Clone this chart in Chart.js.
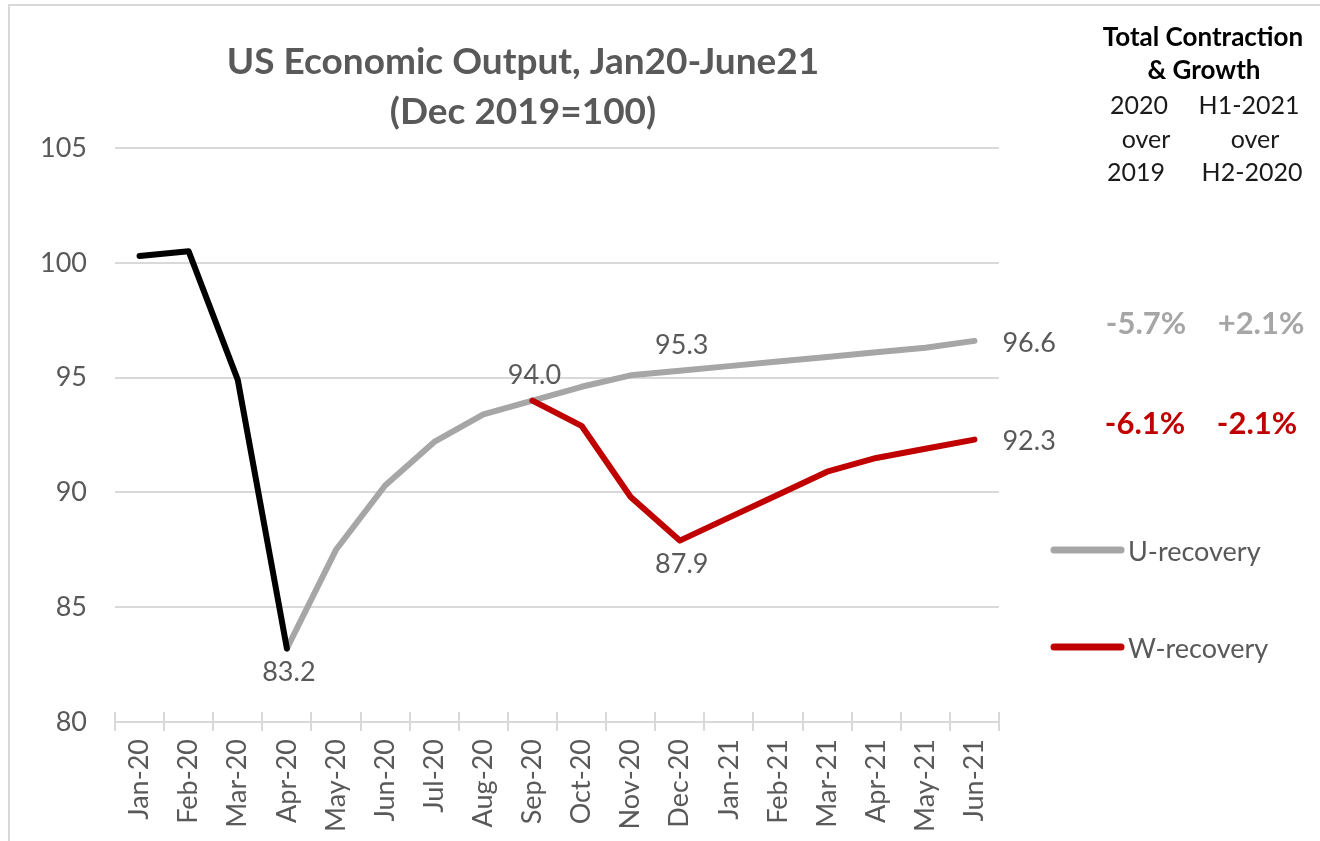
<!DOCTYPE html>
<html>
<head>
<meta charset="utf-8">
<title>US Economic Output, Jan20-June21</title>
<script src="https://cdn.jsdelivr.net/npm/chart.js@4/dist/chart.umd.min.js"></script>
<style>
  html, body { margin: 0; padding: 0; background: #ffffff; }
  #wrap { width: 1320px; height: 841px; }
</style>
</head>
<body>
<div id="wrap"><canvas id="chart" width="1320" height="841"></canvas></div>
<script>
// Month categories on the x axis
const months = ['Jan-20', 'Feb-20', 'Mar-20', 'Apr-20', 'May-20', 'Jun-20', 'Jul-20', 'Aug-20', 'Sep-20',
                'Oct-20', 'Nov-20', 'Dec-20', 'Jan-21', 'Feb-21', 'Mar-21', 'Apr-21', 'May-21', 'Jun-21'];

// Output index, Dec 2019 = 100
const initialDrop = [100.3, 100.5, 94.9, 83.2, null, null, null, null, null,
                     null, null, null, null, null, null, null, null, null];
const uRecovery   = [null, null, null, 83.2, 87.5, 90.3, 92.2, 93.4, 94.0,
                     94.6, 95.1, 95.3, 95.5, 95.7, 95.9, 96.1, 96.3, 96.6];
const wRecovery   = [null, null, null, null, null, null, null, null, 94.0,
                     92.9, 89.8, 87.9, 88.9, 89.9, 90.9, 91.5, 91.9, 92.3];

// Y axis ticks
const yTicks = [80, 85, 90, 95, 100, 105];

// Title lines
const titleLines = ['US Economic Output, Jan20-June21', '(Dec 2019=100)'];

// Side table: total contraction & growth by scenario
const tableHeader = ['Total Contraction', '& Growth'];
const periodCol2020 = ['2020', 'over', '2019'];
const periodColH1 = ['H1-2021', 'over', 'H2-2020'];
const uGrowth = ['-5.7%', '+2.1%'];
const wGrowth = ['-6.1%', '-2.1%'];

// Values printed next to selected points: [dataset index, month, placement]
const valueLabels = [
  [0, 'Apr-20', 'below'],
  [1, 'Sep-20', 'above'],
  [1, 'Dec-20', 'above'],
  [1, 'Jun-21', 'right'],
  [2, 'Dec-20', 'below'],
  [2, 'Jun-21', 'right']
];

const FONT = 'Lato, "Open Sans", sans-serif';
const TEXT_GREY = '#595959';
const GRID = '#d9d9d9';
const U_COLOR = '#a6a6a6';
const W_COLOR = '#c00000';

const backdrop = {
  id: 'backdrop',
  beforeDraw(chart) {
    const ctx = chart.ctx;
    ctx.save();
    ctx.fillStyle = '#ffffff';
    ctx.fillRect(0, 0, chart.width, chart.height);
    ctx.strokeStyle = GRID;
    ctx.lineWidth = 2;
    ctx.strokeRect(9, 5, chart.width + 20, chart.height + 20);
    ctx.restore();
  }
};

// Short cross-tick marks above the category axis line
const innerTicks = {
  id: 'innerTicks',
  afterDraw(chart) {
    const x = chart.scales.x, ctx = chart.ctx;
    const bottom = chart.chartArea.bottom;
    const half = (x.getPixelForValue(1) - x.getPixelForValue(0)) / 2;
    ctx.save();
    ctx.strokeStyle = GRID;
    ctx.lineWidth = 2;
    ctx.beginPath();
    for (let i = 0; i <= months.length; i++) {
      const px = Math.round(x.getPixelForValue(i) - half);
      ctx.moveTo(px, bottom);
      ctx.lineTo(px, bottom - 10);
    }
    ctx.stroke();
    ctx.restore();
  }
};

const annotations = {
  id: 'annotations',
  afterDatasetsDraw(chart) {
    const ctx = chart.ctx;
    const xs = chart.scales.x, ys = chart.scales.y;
    ctx.save();

    // title
    ctx.fillStyle = TEXT_GREY;
    ctx.font = 'bold 37px ' + FONT;
    ctx.textAlign = 'center';
    ctx.textBaseline = 'alphabetic';
    ctx.fillText(titleLines[0], 523, 74);
    ctx.fillText(titleLines[1], 523, 124);

    // point value labels
    ctx.font = '27px ' + FONT;
    ctx.fillStyle = TEXT_GREY;
    valueLabels.forEach(([ds, month, place]) => {
      const i = months.indexOf(month);
      const v = chart.data.datasets[ds].data[i];
      const px = xs.getPixelForValue(i), py = ys.getPixelForValue(v);
      const txt = v.toFixed(1);
      if (place === 'below') {
        ctx.textAlign = 'center'; ctx.textBaseline = 'middle';
        ctx.fillText(txt, px + 2, py + 24);
      } else if (place === 'above') {
        ctx.textAlign = 'center'; ctx.textBaseline = 'middle';
        ctx.fillText(txt, px + 2, py - 25);
      } else {
        ctx.textAlign = 'left'; ctx.textBaseline = 'middle';
        ctx.fillText(txt, px + 28, py + 2);
      }
    });

    // side table header
    ctx.fillStyle = '#000000';
    ctx.textAlign = 'center';
    ctx.textBaseline = 'middle';
    ctx.font = 'bold 26px ' + FONT;
    ctx.fillText(tableHeader[0], 1203, 38);
    ctx.fillText(tableHeader[1], 1204, 71);
    ctx.font = '25px ' + FONT;
    ctx.fillStyle = '#1a1a1a';
    const rowsY = [106, 140, 173];
    const col1X = [1139, 1146, 1136];
    const col2X = [1249, 1255, 1252];
    periodCol2020.forEach((t, k) => ctx.fillText(t, col1X[k], rowsY[k]));
    periodColH1.forEach((t, k) => ctx.fillText(t, col2X[k], rowsY[k]));

    // scenario growth figures
    ctx.font = 'bold 31px ' + FONT;
    ctx.fillStyle = U_COLOR;
    ctx.fillText(uGrowth[0], 1146, 324);
    ctx.fillText(uGrowth[1], 1261, 324);
    ctx.fillStyle = W_COLOR;
    ctx.fillText(wGrowth[0], 1145, 424);
    ctx.fillText(wGrowth[1], 1257, 424);

    // legend
    const legendRows = [[1, 550], [2, 647]];
    legendRows.forEach(([ds, y]) => {
      const d = chart.data.datasets[ds];
      ctx.strokeStyle = d.borderColor;
      ctx.lineWidth = 7;
      ctx.lineCap = 'round';
      ctx.beginPath();
      ctx.moveTo(1054, y);
      ctx.lineTo(1121, y);
      ctx.stroke();
      ctx.fillStyle = TEXT_GREY;
      ctx.font = '27px ' + FONT;
      ctx.textAlign = 'left';
      ctx.textBaseline = 'middle';
      ctx.fillText(d.label, 1128, y + 2);
    });

    ctx.restore();
  }
};

const lineStyle = {
  pointRadius: 0,
  pointHoverRadius: 0,
  tension: 0,
  borderWidth: 6,
  borderCapStyle: 'round',
  borderJoinStyle: 'round',
  spanGaps: false,
  fill: false
};

new Chart(document.getElementById('chart'), {
  type: 'line',
  data: {
    labels: months,
    datasets: [
      Object.assign({ label: 'Initial contraction', data: initialDrop, borderColor: '#000000', order: 0 }, lineStyle),
      Object.assign({ label: 'U-recovery', data: uRecovery, borderColor: U_COLOR, order: 2 }, lineStyle),
      Object.assign({ label: 'W-recovery', data: wRecovery, borderColor: W_COLOR, order: 1 }, lineStyle)
    ]
  },
  options: {
    responsive: false,
    animation: false,
    devicePixelRatio: 1,
    layout: { padding: { top: 148, right: 321, bottom: 0, left: 0 } },
    plugins: {
      legend: { display: false },
      title: { display: false },
      tooltip: { enabled: false }
    },
    scales: {
      x: {
        offset: true,
        afterFit(scale) { scale.height = 119; },
        border: { display: true, color: GRID, width: 2 },
        grid: { offset: true, drawOnChartArea: false, drawTicks: true, tickLength: 9, color: GRID, lineWidth: 2 },
        ticks: {
          autoSkip: false,
          minRotation: 90,
          maxRotation: 90,
          padding: 8,
          color: TEXT_GREY,
          font: { family: FONT, size: 27 }
        }
      },
      y: {
        min: 80,
        max: 105,
        afterFit(scale) { scale.width = 115; },
        afterBuildTicks(scale) { scale.ticks = yTicks.map(v => ({ value: v })); },
        border: { display: false },
        grid: { drawTicks: false, color: GRID, lineWidth: 2 },
        ticks: {
          padding: 28,
          color: TEXT_GREY,
          font: { family: FONT, size: 27 }
        }
      }
    }
  },
  plugins: [backdrop, innerTicks, annotations]
});
</script>
</body>
</html>
